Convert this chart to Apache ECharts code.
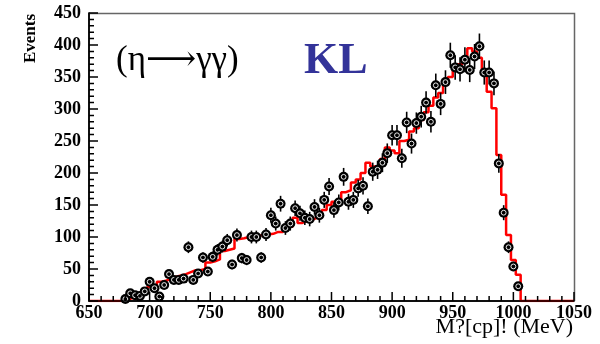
<!DOCTYPE html>
<html>
<head>
<meta charset="utf-8">
<script src="https://cdn.jsdelivr.net/npm/echarts@6/dist/echarts.min.js"></script>
<style>
  html, body { margin: 0; padding: 0; background: #fff; }
  #chart { width: 600px; height: 344px; }
</style>
</head>
<body>
<div id="chart"></div>
<script>
// Invariant-mass spectrum, 4 MeV bins, first filled bin centred at 680 MeV
const BIN_WIDTH = 4;
const FIRST_CENTER = 680;
const X_TICKS = [650, 700, 750, 800, 850, 900, 950, 1000, 1050];
const Y_TICKS = [0, 50, 100, 150, 200, 250, 300, 350, 400, 450];
const MINOR_PER_MAJOR = 5;

// Simulated expectation (red histogram), one entry per bin
const mcCounts = [
  2, 5, 8, 12, 18, 22, 25, 30, 32, 35,
  38, 40, 42, 45, 48, 48, 50, 60, 62, 65,
  78, 80, 82, 97, 98, 100, 100, 102, 103, 104,
  105, 108, 108, 112, 116, 130, 122, 125, 127, 130,
  135, 142, 150, 155, 158, 170, 173, 185, 190, 200,
  216, 210, 212, 222, 240, 235, 231, 250, 252, 265,
  270, 283, 295, 305, 318, 325, 340, 350, 360, 370,
  380, 395, 390, 380, 355, 327, 301, 228, 166, 103,
  64, 41
];

// Observed events per bin (points with error bars)
const dataCounts = [
  3, 12, 9, 8, 15, 30, 20, 7, 25, 42,
  33, 33, 35, 84, 33, 43, 68, 46, 69, 80,
  85, 95, 57, 103, 67, 64, 100, 100, 68, 104,
  134, 121, 152, 114, 121, 145, 137, 130, 128, 147,
  134, 158, 179, 142, 154, 194, 155, 158, 176, 180,
  148, 202, 205, 216, 231, 259, 259, 223, 279, 246,
  278, 288, 310, 280, 337, 308, 342, 384, 365, 362,
  377, 361, 382, 398, 357, 357, 340, 215, 138, 84,
  54, 23
];

const X_MIN = X_TICKS[0], X_MAX = X_TICKS[X_TICKS.length - 1];
const Y_MIN = Y_TICKS[0], Y_MAX = Y_TICKS[Y_TICKS.length - 1];

// Histogram outline: left edge of each bin, drawn as a step line
const histLine = [[X_MIN, 0]];
mcCounts.forEach((v, i) => {
  histLine.push([FIRST_CENTER + i * BIN_WIDTH - BIN_WIDTH / 2, v]);
});
const lastEdge = FIRST_CENTER + mcCounts.length * BIN_WIDTH - BIN_WIDTH / 2;
histLine.push([lastEdge, 0]);
histLine.push([X_MAX, 0]);

// Points: [centre, count, Poisson error]
const points = dataCounts.map((v, i) => [FIRST_CENTER + i * BIN_WIDTH, v, Math.sqrt(v)]);

const serif = '"Liberation Serif", "DejaVu Serif", serif';
const GRID = { left: 89, right: 26, top: 13, bottom: 43 };
const W = 600, H = 344;
const PLOT_W = W - GRID.left - GRID.right;
const PLOT_H = H - GRID.top - GRID.bottom;
const MAJOR_PX = 9, MINOR_PX = 5;

// Major + minor tick positions along an axis: [value, isMajor]
function tickList(majors) {
  const out = [];
  for (let i = 0; i < majors.length; i++) {
    out.push([majors[i], 1]);
    if (i < majors.length - 1) {
      const step = (majors[i + 1] - majors[i]) / MINOR_PER_MAJOR;
      for (let k = 1; k < MINOR_PER_MAJOR; k++) out.push([majors[i] + k * step, 0]);
    }
  }
  return out;
}

// Tick combs drawn as one continuous path per axis, in axis units
const xPerPx = (X_MAX - X_MIN) / PLOT_W;
const yPerPx = (Y_MAX - Y_MIN) / PLOT_H;
const xComb = [];
tickList(X_TICKS).forEach(t => {
  const len = (t[1] ? MAJOR_PX : MINOR_PX) * yPerPx;
  xComb.push([t[0], Y_MIN], [t[0], Y_MIN + len], [t[0], Y_MIN]);
});
const yComb = [];
tickList(Y_TICKS).forEach(t => {
  const len = (t[1] ? MAJOR_PX : MINOR_PX) * xPerPx;
  yComb.push([X_MIN, t[0]], [X_MIN + len, t[0]], [X_MIN, t[0]]);
});

const chart = echarts.init(document.getElementById('chart'), null, { renderer: 'canvas' });

const tickLabel = {
  show: true, color: '#000', fontFamily: serif, fontWeight: 'bold', fontSize: 18,
  formatter: v => String(v)
};

function combSeries(data) {
  return {
    type: 'line', data: data, symbol: 'none', silent: true, clip: false,
    lineStyle: { color: '#000', width: 1.5 }, z: 7
  };
}

chart.setOption({
  animation: false,
  backgroundColor: '#fff',
  grid: Object.assign({ show: false }, GRID),
  xAxis: {
    type: 'value', min: X_MIN, max: X_MAX, interval: 50,
    axisLine: { show: true, onZero: false, lineStyle: { color: '#000', width: 1.5 } },
    axisTick: { show: false },
    splitLine: { show: false },
    axisLabel: Object.assign({ margin: 3 }, tickLabel)
  },
  yAxis: {
    type: 'value', min: Y_MIN, max: Y_MAX, interval: 50,
    axisLine: { show: true, onZero: false, lineStyle: { color: '#000', width: 1.5 } },
    axisTick: { show: false },
    splitLine: { show: false },
    axisLabel: Object.assign({ margin: 8 }, tickLabel)
  },
  series: [
    combSeries(xComb),
    combSeries(yComb),
    {
      name: 'MC',
      type: 'line',
      step: 'end',
      data: histLine,
      symbol: 'none',
      lineStyle: { color: '#ff0000', width: 2.5 },
      z: 5
    },
    {
      name: 'Data',
      type: 'custom',
      data: points,
      z: 6,
      renderItem: function (params, api) {
        const x = api.value(0), y = api.value(1), e = api.value(2);
        const p = api.coord([x, y]);
        const top = api.coord([x, y + e]);
        const bot = api.coord([x, Math.max(0, y - e)]);
        return {
          type: 'group',
          children: [
            { type: 'line', shape: { x1: p[0], y1: top[1], x2: p[0], y2: bot[1] },
              style: { stroke: '#000', lineWidth: 1.6 } },
            { type: 'circle', shape: { cx: p[0], cy: p[1], r: 5 },
              style: { fill: '#000' } },
            { type: 'circle', shape: { cx: p[0], cy: p[1], r: 2.4 },
              style: { fill: 'none', stroke: '#fff', lineWidth: 0.9 } }
          ]
        };
      }
    }
  ],
  graphic: [
    // top and right frame edges
    { type: 'polyline', z: 1, silent: true,
      shape: { points: [[GRID.left, GRID.top + 0.5], [W - GRID.right + 0.5, GRID.top + 0.5], [W - GRID.right + 0.5, H - GRID.bottom]] },
      style: { stroke: '#666', lineWidth: 1.5, fill: null } },
    { type: 'text', left: 22, top: 14, rotation: Math.PI / 2,
      style: { text: 'Events', font: 'bold 17px ' + serif, fill: '#000' } },
    { type: 'text', right: 27, top: 316,
      style: { text: 'M?[cp]! (MeV)', font: '22px ' + serif, fill: '#000' } },
    { type: 'text', left: 116, top: 43,
      style: { text: '(η⟶γγ)', font: '35px ' + serif, fill: '#000' } },
    { type: 'text', left: 304, top: 40,
      style: { text: 'KL', font: 'bold 44px ' + serif, fill: '#333399' } }
  ]
});
</script>
</body>
</html>
